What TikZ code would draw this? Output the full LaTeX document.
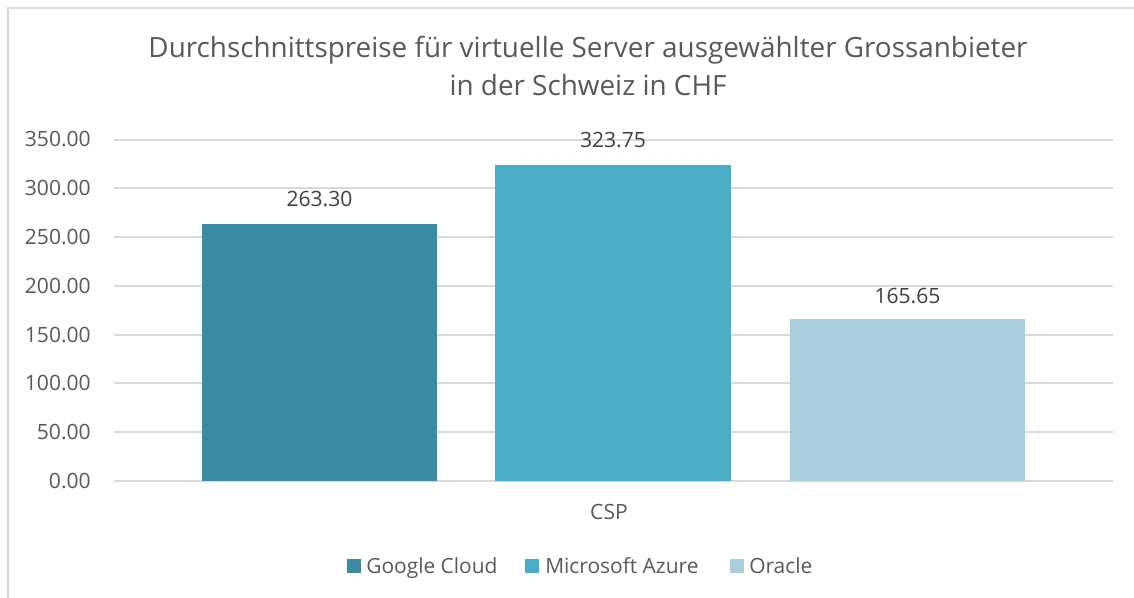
\documentclass[tikz,border=0pt]{standalone}
\usepackage{fontspec}
\setmainfont{Open Sans}
\definecolor{gc}{HTML}{3B8BA3}
\definecolor{az}{HTML}{4BACC6}
\definecolor{orc}{HTML}{A9CEDD}
\definecolor{txt}{HTML}{595959}
\definecolor{val}{HTML}{404040}
\definecolor{grid}{HTML}{D9D9D9}
\begin{document}
\begin{tikzpicture}[x=0.75pt,y=-0.75pt,
  gridline/.style={draw=grid,line width=1.5pt},
  ticklabel/.style={anchor=east,text=txt,font=\fontsize{15.8}{18}\selectfont,inner sep=0pt},
  vallabel/.style={anchor=center,text=val,font=\fontsize{15.8}{18}\selectfont,inner sep=0pt},
  legtext/.style={anchor=base west,text=txt,font=\fontsize{15.7}{18}\selectfont,inner sep=0pt},
  legbox/.style={minimum width=10.5pt,minimum height=10.5pt,inner sep=0pt,draw=none}]
\useasboundingbox (0,0) rectangle (1134,598);
\fill[white] (0,0) rectangle (1134,598);
\draw[draw=grid,line width=1.5pt] (7.5,604) -- (7.5,8.5) -- (1140,8.5);
% title
\node[text=txt,font=\fontsize{20.9}{29}\selectfont,align=center,inner sep=0pt] (title) at (588,66)
  {Durchschnittspreise für virtuelle Server ausgewählter Grossanbieter\\in der Schweiz in CHF};
% grid
\foreach \v/\lab in {0/0.00,50/50.00,100/100.00,150/150.00,200/200.00,250/250.00,300/300.00,350/350.00}{
  \draw[gridline] (114,{481-\v*0.9757}) -- (1113,{481-\v*0.9757});
  \node[ticklabel] at (91,{481-\v*0.9757}) {\lab};
}
% bars
\fill[gc] (202,481) rectangle (437,{481-263.30*0.9757});
\fill[az] (495,481) rectangle (731,{481-323.75*0.9757});
\fill[orc] (790,481) rectangle (1025,{481-165.65*0.9757});
\node[vallabel] (v1) at (319.5,199) {263.30};
\node[vallabel] (v2) at (613,140) {323.75};
\node[vallabel] (v3) at (907.5,296) {165.65};
\node[text=txt,font=\fontsize{15.8}{18}\selectfont,inner sep=0pt] (csp) at (609,512) {CSP};
% legend
\node[legbox,fill=gc] (l1) at (354,566) {};
\node[legtext] (t1) at (366,573) {Google Cloud};
\node[legbox,fill=az] (l2) at (532,566) {};
\node[legtext] (t2) at (545,573) {Microsoft Azure};
\node[legbox,fill=orc] (l3) at (737,566) {};
\node[legtext] (t3) at (749,573) {Oracle};
\end{tikzpicture}
\end{document}
